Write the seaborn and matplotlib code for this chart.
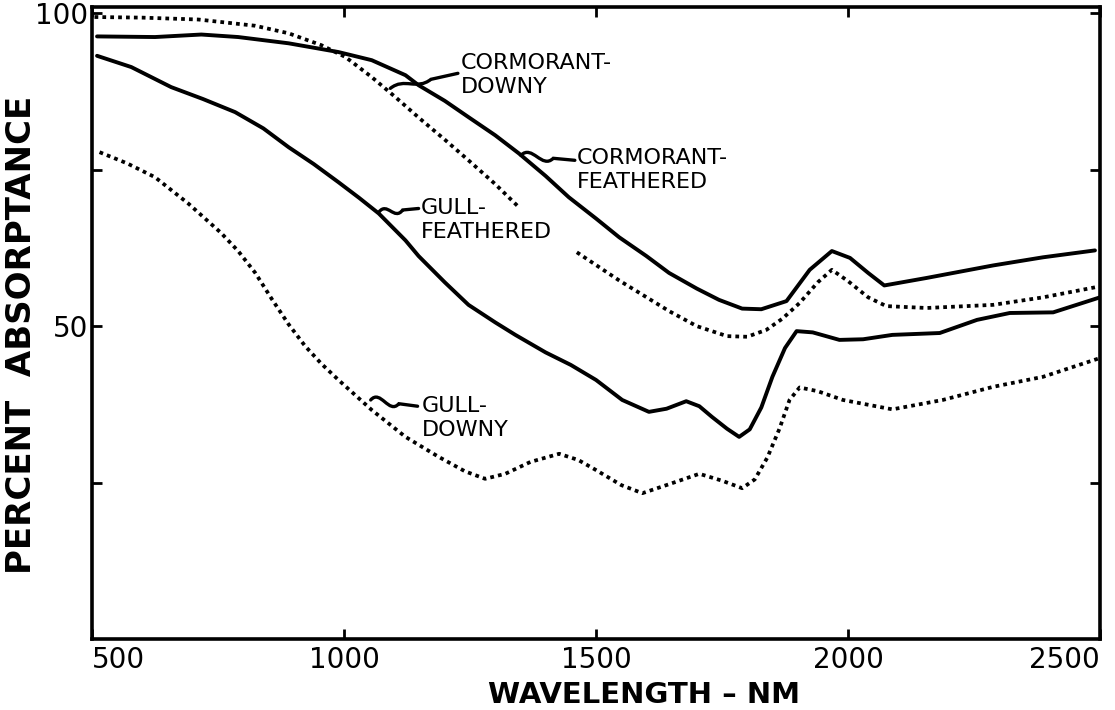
import numpy as np
import pandas as pd
import matplotlib
matplotlib.use("Agg")
import matplotlib.pyplot as plt
from matplotlib.path import Path
from matplotlib.patches import PathPatch
import seaborn as sns

# ---------------- data ----------------
cormorant_downy_nm = [505, 600, 711, 824, 890, 955, 1003, 1055, 1102, 1150, 1200, 1247, 1300, 1347,
                      1400,
                      1462, 1546, 1645, 1700, 1760, 1800, 1838, 1870, 1904, 1940, 1968, 2000, 2040,
                      2076, 2156, 2288, 2387, 2490]
cormorant_downy_pct = [99.4, 99.3, 99.0, 98.0, 96.8, 94.9, 93.0, 89.8, 86.6, 83.2, 79.8, 76.5, 72.7, 69.0,
                       np.nan,
                       61.8, 57.3, 52.4, 50.0, 48.4, 48.3, 49.4, 51.2, 53.7, 57.0, 59.0, 57.2, 54.6,
                       53.2, 52.9, 53.4, 54.6, 56.2]

cormorant_feathered_nm = [510, 625, 717, 790, 890, 989, 1055, 1122, 1148, 1200, 1247, 1300, 1347, 1400,
                          1446, 1500, 1546, 1600, 1645, 1700, 1744, 1790, 1828, 1878, 1924, 1968, 2004,
                          2040, 2072, 2156, 2288, 2387, 2490]
cormorant_feathered_pct = [96.3, 96.2, 96.6, 96.2, 95.2, 93.8, 92.5, 90.1, 88.5, 86.0, 83.4, 80.5, 77.6, 74.0,
                           70.6, 67.2, 64.2, 61.2, 58.5, 56.0, 54.2, 52.8, 52.7, 54.0, 59.0, 62.0, 60.9,
                           58.5, 56.5, 57.7, 59.7, 61.0, 62.1]

gull_feathered_nm = [510, 578, 657, 720, 784, 840, 890, 940, 989, 1030, 1069, 1122, 1148, 1200, 1247,
                     1300, 1340, 1400, 1450, 1500, 1552, 1605, 1640, 1679, 1705, 1730, 1760, 1784, 1805,
                     1828, 1850, 1875, 1898, 1930, 1983, 2030, 2088, 2182, 2256, 2321, 2407, 2500]
gull_feathered_pct = [93.2, 91.4, 88.2, 86.3, 84.2, 81.6, 78.6, 75.9, 73.0, 70.5, 68.0, 63.7, 61.2, 57.0, 53.4,
                      50.6, 48.6, 45.8, 43.8, 41.4, 38.2, 36.3, 36.8, 38.0, 37.2, 35.5, 33.6, 32.3, 33.5,
                      37.0, 41.9, 46.5, 49.2, 49.0, 47.8, 47.9, 48.6, 48.9, 51.0, 52.1, 52.2, 54.6]

gull_downy_nm = [515, 570, 625, 691, 756, 790, 824, 857, 890, 923, 955, 989, 1055, 1122, 1188, 1240,
                 1280, 1320, 1370, 1427, 1465, 1500, 1550, 1592, 1640, 1705, 1750, 1790, 1815, 1840,
                 1864, 1884, 1904, 1940, 1990, 2088, 2188, 2288, 2387, 2500]
gull_downy_pct = [77.8, 76.0, 73.8, 69.6, 64.9, 62.0, 58.5, 54.3, 50.3, 46.8, 44.0, 41.4, 36.6, 32.3, 29.1, 26.8,
                  25.6, 26.4, 28.3, 29.6, 28.6, 27.0, 24.6, 23.3, 24.6, 26.4, 25.3, 24.1, 25.5, 29.0,
                  33.6, 38.2, 40.2, 39.6, 38.2, 36.7, 38.2, 40.3, 41.9, 44.9]

series_names = ["CORMORANT-\nDOWNY", "CORMORANT-\nFEATHERED", "GULL-\nFEATHERED", "GULL-\nDOWNY"]
x_ticks = [500, 1000, 1500, 2000, 2500]
x_tick_labels = ["500", "1000", "1500", "2000", "2500"]
y_ticks = [25, 50, 75, 100]
y_tick_labels = ["", "50", "", "100"]


def to_frame(nm, pct):
    df = pd.DataFrame({"nm": nm, "pct": pct})
    df["seg"] = df["pct"].isna().cumsum()
    return df.dropna()


# ---------------- style ----------------
sns.set_theme(style="ticks")
plt.rcParams["font.family"] = ["DejaVu Sans"]
plt.rcParams["axes.linewidth"] = 2.6
plt.rcParams["text.color"] = "black"
plt.rcParams["axes.labelcolor"] = "black"
plt.rcParams["xtick.color"] = "black"
plt.rcParams["ytick.color"] = "black"
plt.rcParams["axes.edgecolor"] = "black"

fig = plt.figure(figsize=(11.15, 7.10), dpi=100)
ax = fig.add_axes([92 / 1115, 71 / 710, 1008 / 1115, 632 / 710])

dotted = (0, (1, 1.1))
styles = [dotted, "-", "-", dotted]
datasets = [(cormorant_downy_nm, cormorant_downy_pct),
            (cormorant_feathered_nm, cormorant_feathered_pct),
            (gull_feathered_nm, gull_feathered_pct),
            (gull_downy_nm, gull_downy_pct)]

for (nm, pct), ls in zip(datasets, styles):
    df = to_frame(nm, pct)
    sns.lineplot(data=df, x="nm", y="pct", units="seg", estimator=None, ax=ax,
                 color="black", linewidth=2.8 if ls == "-" else 2.7, linestyle=ls,
                 solid_capstyle="round", solid_joinstyle="round")

ax.set_xlim(500, 2500)
ax.set_ylim(0, 101)

ax.set_xticks(x_ticks)
ax.set_xticklabels(x_tick_labels)
ax.set_yticks(y_ticks)
ax.set_yticklabels(y_tick_labels)
ax.tick_params(axis="both", direction="in", length=7, width=2.0, top=True, right=True,
               labelsize=20, colors="black", labelcolor="black")
ax.tick_params(axis="x", pad=5)
ax.tick_params(axis="y", pad=3)
xl = ax.get_xticklabels()
xl[0].set_ha("left")
xl[-1].set_ha("right")

for s in ax.spines.values():
    s.set_color("black")
    s.set_linewidth(2.6)

ax.set_xlabel("")
ax.set_ylabel("")
fig.text(644 / 1115, 1 - 695 / 710, "WAVELENGTH – NM", ha="center", va="center",
         fontsize=21, fontweight="bold", color="black")
fig.text(22 / 1115, 1 - 335 / 710, "PERCENT  ABSORPTANCE", ha="center", va="center",
         rotation=90, fontsize=24.5, fontweight="bold", color="black")

# ---------------- curve labels with squiggle leaders ----------------
label_pos = [(1232, 90.1), (1462, 74.9), (1152, 66.9), (1154, 35.3)]
leaders = [((1092, 88.0), (1226, 90.4)),
           ((1351, 77.3), (1458, 76.5)),
           ((1069, 68.2), (1148, 68.8)),
           ((1053, 38.2), (1146, 37.2))]

for name, (tx, ty) in zip(series_names, label_pos):
    ax.text(tx, ty, name, ha="left", va="center", fontsize=16, linespacing=1.25,
            color="black")

for (x0, y0), (x3, y3) in leaders:
    xm = x0 + 0.6 * (x3 - x0)
    ym = y0 + 0.6 * (y3 - y0)
    b = 1.8
    verts = [(x0, y0),
             (x0 + 0.35 * (xm - x0), y0 + b),
             (x0 + 0.65 * (xm - x0), ym - b),
             (xm, ym),
             (x3, y3)]
    codes = [Path.MOVETO, Path.CURVE4, Path.CURVE4, Path.CURVE4, Path.LINETO]
    ax.add_patch(PathPatch(Path(verts, codes), facecolor="none", edgecolor="black",
                           linewidth=2.4, capstyle="round"))

fig.savefig("out.png", dpi=100)
